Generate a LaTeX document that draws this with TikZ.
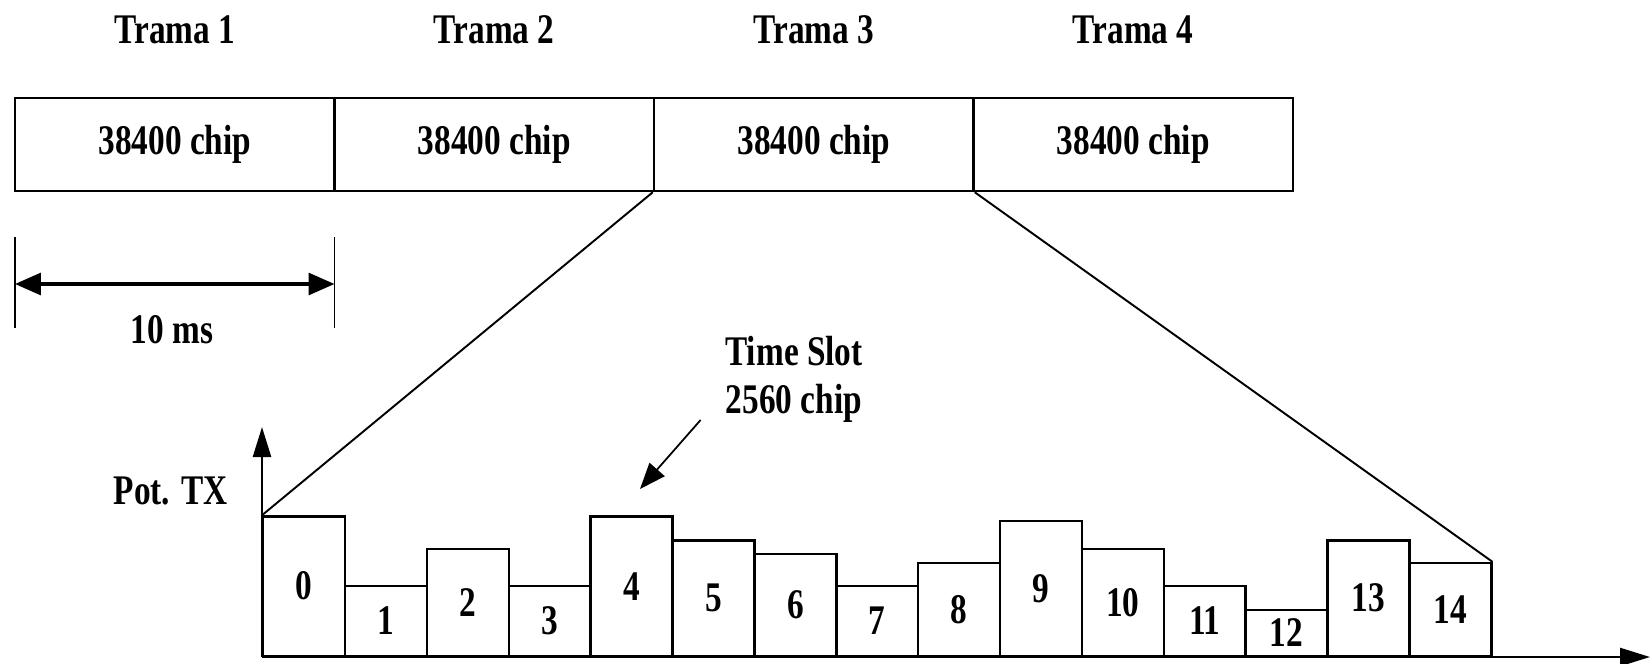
\documentclass[tikz,border=0pt]{standalone}
\usepackage{fontspec}
\setmainfont{Liberation Serif}[FakeStretch=0.79]
\usepackage{tikz}
\usetikzlibrary{arrows.meta, positioning}

\begin{document}
\begin{tikzpicture}[
    lbl/.style={font=\fontsize{12}{13.7}\selectfont\bfseries},
    frame/.style={rectangle, minimum width=3.195cm, minimum height=0.93cm, draw, line width=0.7pt, inner sep=0pt, lbl},
    slot/.style={rectangle, minimum width=0.8187cm, draw, line width=0.7pt, inner sep=0pt, anchor=south west, lbl},
    axis/.style={-{Triangle[length=0.3cm, width=0.18cm]}, line width=0.7pt},
    dim/.style={{Triangle[length=0.26cm, width=0.22cm]}-{Triangle[length=0.26cm, width=0.22cm]}, line width=0.9pt},
    ptr/.style={-{Triangle[length=0.26cm, width=0.2cm]}, line width=0.5pt},
    arr/.style={-, line width=0.55pt}
]
    \useasboundingbox (0,0) rectangle (16.51,6.63);

    % frames
    \foreach \i in {1,...,4} {
        \node[frame] (f\i) at ({0.15+(\i-0.5)*3.195}, 5.185) {38400 chip};
        \node[lbl] (t\i) at ({0.15+(\i-0.5)*3.195}, 6.335) {Trama \i};
    }

    % 10 ms
    \coordinate (m1t) at (0.15, 4.26);
    \coordinate (m1b) at (0.15, 3.35);
    \coordinate (m2t) at (3.345, 4.26);
    \coordinate (m2b) at (3.345, 3.35);
    \coordinate (d1) at (0.15, 3.79);
    \coordinate (d2) at (3.345, 3.79);
    \draw[arr] (m1t) -- (m1b);
    \draw[arr] (m2t) -- (m2b);
    \draw[dim] (d1) -- (d2);
    \node[lbl] (ms) at (1.72, 3.33) {10 ms};

    % slots
    \foreach \h [count=\i from 0] in {1.393, 0.70, 1.07, 0.70, 1.393, 1.153, 1.017, 0.70, 0.927, 1.347, 1.07, 0.697, 0.46, 1.153, 0.927} {
        \node[slot, minimum height=\h cm] (s\i) at ({2.62+\i*0.8187}, 0.06) {\i};
    }

    % axes
    \coordinate (o) at (2.62, 0.06);
    \coordinate (ytip) at (2.62, 2.36);
    \coordinate (xtip) at (16.5, 0.06);
    \draw[axis] (o) -- (ytip);
    \draw[axis] (o) -- (xtip);
    \node[lbl] (pot) at (1.706, 1.723) {Pot. TX};

    % zoom
    \draw[arr] (f3.south west) -- (s0.north west);
    \draw[arr] (f3.south east) -- (s14.north east);

    \node[lbl, align=center] (ts) at (7.94, 2.84) {Time Slot\\2560 chip};
    \coordinate (tsa) at (7.006, 2.43);
    \coordinate (tsp) at (6.40, 1.74);
    \draw[ptr] (tsa) -- (tsp);
\end{tikzpicture}
\end{document}
